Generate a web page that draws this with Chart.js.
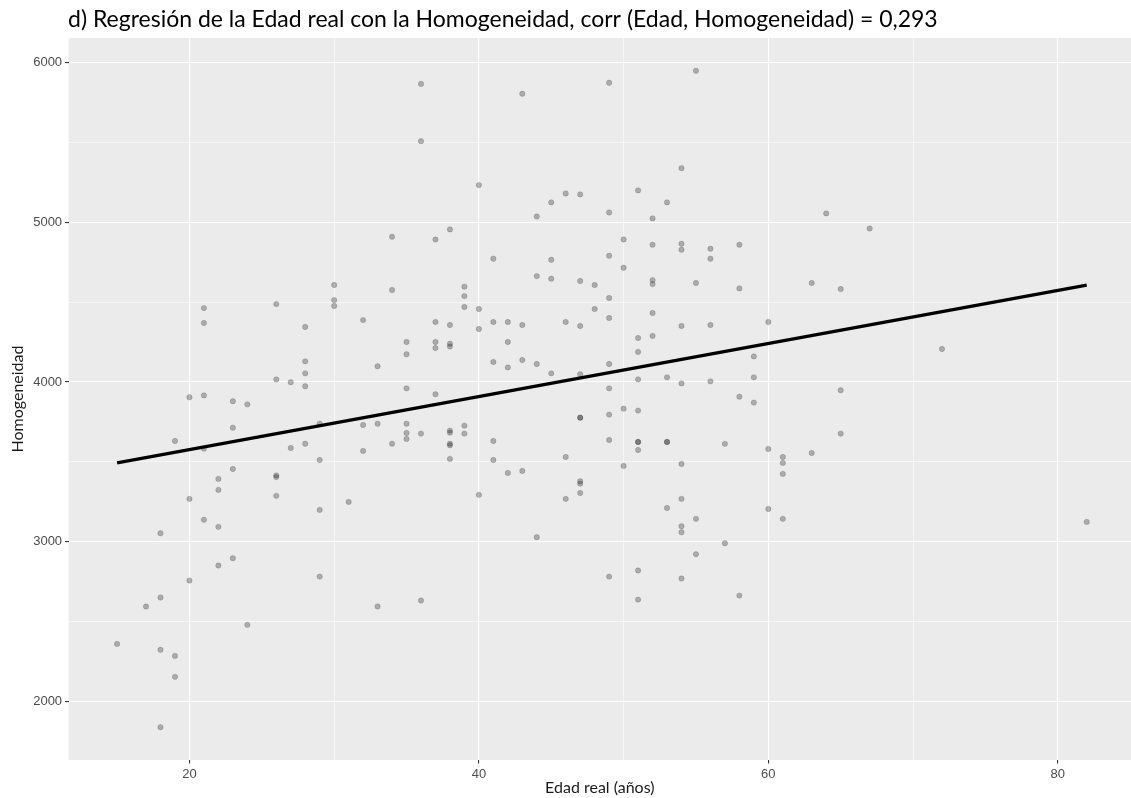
<!DOCTYPE html>
<html>
<head>
<meta charset="utf-8">
<script src="https://cdn.jsdelivr.net/npm/chart.js@4.4.1/dist/chart.umd.min.js"></script>
<style>
  html, body { margin: 0; padding: 0; background: #fff; overflow: hidden; }
</style>
</head>
<body>
<canvas id="grafica" width="1131" height="798"></canvas>
<script>
// ==== Datos: edad real (años) y homogeneidad de cada caso ====
const edad = [
  36, 36, 34, 30, 43, 49, 55, 40, 54, 51,
  46, 47, 45, 53, 44, 49, 52, 38, 37, 50,
  52, 54, 54, 56, 56, 58, 41, 45, 49, 50,
  44, 45, 47, 48, 52, 52, 55, 58, 39, 64,
  67, 63, 65,
  34, 30, 30, 21, 21, 26, 32, 28, 35, 35,
  33, 28, 28, 28, 26, 27, 35, 20, 21, 23,
  24, 23, 29, 32, 33, 35, 35, 35, 36, 34,
  32, 27, 28, 19, 21, 29, 23, 22, 22, 26,
  26, 20, 26, 31, 29, 21, 22,
  18, 23, 22, 20, 29, 18, 17, 33, 36, 24,
  15, 18, 19, 19, 18,
  39, 39, 40, 49, 48, 49, 52, 60, 37, 38,
  40, 41, 42, 43, 46, 47, 54, 56, 52, 51,
  51, 37, 37, 38, 38, 42, 41, 42, 43, 44,
  45, 47, 49, 49, 51, 53, 54, 56, 59, 59,
  58, 59, 37, 38, 38, 39, 39, 38, 38, 38,
  41, 41, 47, 47, 49, 50, 51, 49, 51, 51,
  53, 53, 51, 57, 60, 46, 54, 50, 42, 43,
  40, 46, 47, 47, 47, 54, 53, 55, 54, 60,
  44, 54, 57, 55, 49, 51, 54, 51, 58,
  72, 65, 65, 63, 61, 61, 61, 61, 82
];
const homogeneidad = [
  5864, 5506, 4908, 4606, 5802, 5871, 5946, 5231, 5337, 5198,
  5179, 5173, 5123, 5123, 5035, 5060, 5023, 4954, 4891, 4891,
  4858, 4864, 4827, 4833, 4771, 4858, 4771, 4764, 4789, 4714,
  4662, 4646, 4631, 4606, 4637, 4612, 4619, 4585, 4596, 5054,
  4960, 4619, 4581,
  4575, 4512, 4475, 4462, 4369, 4487, 4387, 4344, 4250, 4173,
  4098, 4129, 4054, 3973, 4016, 3998, 3960, 3904, 3916, 3879,
  3860, 3714, 3739, 3731, 3739, 3739, 3681, 3644, 3677, 3614,
  3569, 3587, 3614, 3631, 3583, 3512, 3456, 3394, 3325, 3416,
  3405, 3269, 3288, 3250, 3200, 3138, 3094,
  3054, 2898, 2852, 2758, 2783, 2652, 2596, 2596, 2633, 2481,
  2362, 2325, 2287, 2156, 1841,
  4537, 4469, 4456, 4525, 4456, 4400, 4431, 4375, 4375, 4356,
  4331, 4375, 4375, 4356, 4375, 4350, 4350, 4356, 4288, 4275,
  4188, 4250, 4212, 4239, 4222, 4250, 4125, 4091, 4137, 4112,
  4054, 4048, 4112, 3960, 4016, 4029, 3991, 4004, 4160, 4029,
  3908, 3871, 3923, 3696, 3683, 3727, 3677, 3614, 3604, 3519,
  3631, 3512, 3777, 3777, 3796, 3833, 3821, 3637, 3625, 3625,
  3625, 3625, 3575, 3613, 3581, 3531, 3487, 3475, 3431, 3444,
  3294, 3269, 3379, 3364, 3306, 3269, 3212, 3144, 3098, 3206,
  3029, 3060, 2991, 2923, 2783, 2821, 2771, 2639, 2664,
  4206, 3948, 3677, 3556, 3531, 3494, 3425, 3144, 3125
];

// Recta de regresión (extremos del ajuste lineal)
const ajusteEdad  = [15, 82];
const ajusteValor = [3494, 4606];

// Marcas de los ejes: con etiqueta (mayores) y solo rejilla (menores)
const ticksEdad   = [20, 40, 60, 80];
const rejillaEdad = [20, 30, 40, 50, 60, 70, 80];
const ticksHomog   = [2000, 3000, 4000, 5000, 6000];
const rejillaHomog = [2000, 2500, 3000, 3500, 4000, 4500, 5000, 5500, 6000];

const titulo = 'd) Regresión de la Edad real con la Homogeneidad, corr (Edad, Homogeneidad) = 0,293';

// ==== Helpers ====
const FUENTE_TEXTO = 'Lato, "Noto Sans", sans-serif';
const FUENTE_EJES  = '"Liberation Sans", Arial, sans-serif';

function esMayor(lista, v) { return lista.includes(v); }

const panelGris = {
  id: 'panelGris',
  beforeDraw(chart) {
    const { ctx, chartArea: a } = chart;
    ctx.save();
    ctx.fillStyle = '#EBEBEB';
    ctx.fillRect(a.left, a.top, a.right - a.left, a.bottom - a.top);
    ctx.restore();
  }
};

const tituloPlugin = {
  id: 'tituloPlugin',
  afterDraw(chart) {
    const ctx = chart.ctx;
    ctx.save();
    ctx.font = '23px ' + FUENTE_TEXTO;
    ctx.fillStyle = '#000';
    ctx.textBaseline = 'alphabetic';
    ctx.textAlign = 'left';
    ctx.fillText(titulo, 68, 27);
    ctx.restore();
  }
};

const puntos = edad.map((x, i) => ({ x: x, y: homogeneidad[i] }));
const recta  = ajusteEdad.map((x, i) => ({ x: x, y: ajusteValor[i] }));

// ==== Gráfico ====
new Chart(document.getElementById('grafica'), {
  type: 'scatter',
  data: {
    datasets: [
      {
        type: 'line',
        data: recta,
        borderColor: '#000',
        borderWidth: 3.4,
        pointRadius: 0,
        fill: false,
        order: 0
      },
      {
        data: puntos,
        backgroundColor: 'rgba(0,0,0,0.27)',
        borderColor: 'rgba(0,0,0,0.18)',
        borderWidth: 0.8,
        pointRadius: 2.7,
        order: 1
      }
    ]
  },
  options: {
    responsive: false,
    animation: false,
    devicePixelRatio: 1,
    layout: { padding: { top: 38, left: 0, right: 0, bottom: 0 }, autoPadding: false },
    plugins: {
      legend: { display: false },
      tooltip: { enabled: false },
      title: { display: false }
    },
    scales: {
      x: {
        type: 'linear',
        min: 11.65,
        max: 85.06,
        afterBuildTicks: (s) => { s.ticks = rejillaEdad.map(v => ({ value: v })); },
        afterFit: (s) => { s.height = 38; },
        border: { display: false },
        grid: {
          color: '#FFFFFF',
          lineWidth: (c) => esMayor(ticksEdad, c.tick.value) ? 1.1 : 0.55,
          drawTicks: true,
          tickLength: 3.5,
          tickWidth: 1.1,
          tickColor: (c) => esMayor(ticksEdad, c.tick.value) ? '#333333' : 'rgba(0,0,0,0)'
        },
        ticks: {
          autoSkip: false,
          maxRotation: 0,
          padding: 3,
          color: '#4D4D4D',
          font: { family: FUENTE_EJES, size: 13 },
          callback: (v) => esMayor(ticksEdad, v) ? String(v) : ''
        },
        title: {
          display: true,
          text: 'Edad real (años)',
          color: '#1A1A1A',
          font: { family: FUENTE_TEXTO, size: 16, lineHeight: 1.2 },
          padding: { top: 0, bottom: 1 }
        }
      },
      y: {
        type: 'linear',
        min: 1636,
        max: 6151,
        afterBuildTicks: (s) => { s.ticks = rejillaHomog.map(v => ({ value: v })); },
        afterFit: (s) => { s.width = 68.6; },
        border: { display: false },
        grid: {
          color: '#FFFFFF',
          lineWidth: (c) => esMayor(ticksHomog, c.tick.value) ? 1.1 : 0.55,
          drawTicks: true,
          tickLength: 3.5,
          tickWidth: 1.1,
          tickColor: (c) => esMayor(ticksHomog, c.tick.value) ? '#333333' : 'rgba(0,0,0,0)'
        },
        ticks: {
          autoSkip: false,
          padding: 3,
          color: '#4D4D4D',
          font: { family: FUENTE_EJES, size: 13 },
          callback: (v) => esMayor(ticksHomog, v) ? String(v) : ''
        },
        title: {
          display: true,
          text: 'Homogeneidad',
          color: '#1A1A1A',
          font: { family: FUENTE_TEXTO, size: 16, lineHeight: 1.2 },
          padding: { top: 8, bottom: 0 }
        }
      }
    }
  },
  plugins: [panelGris, tituloPlugin]
});
</script>
</body>
</html>
